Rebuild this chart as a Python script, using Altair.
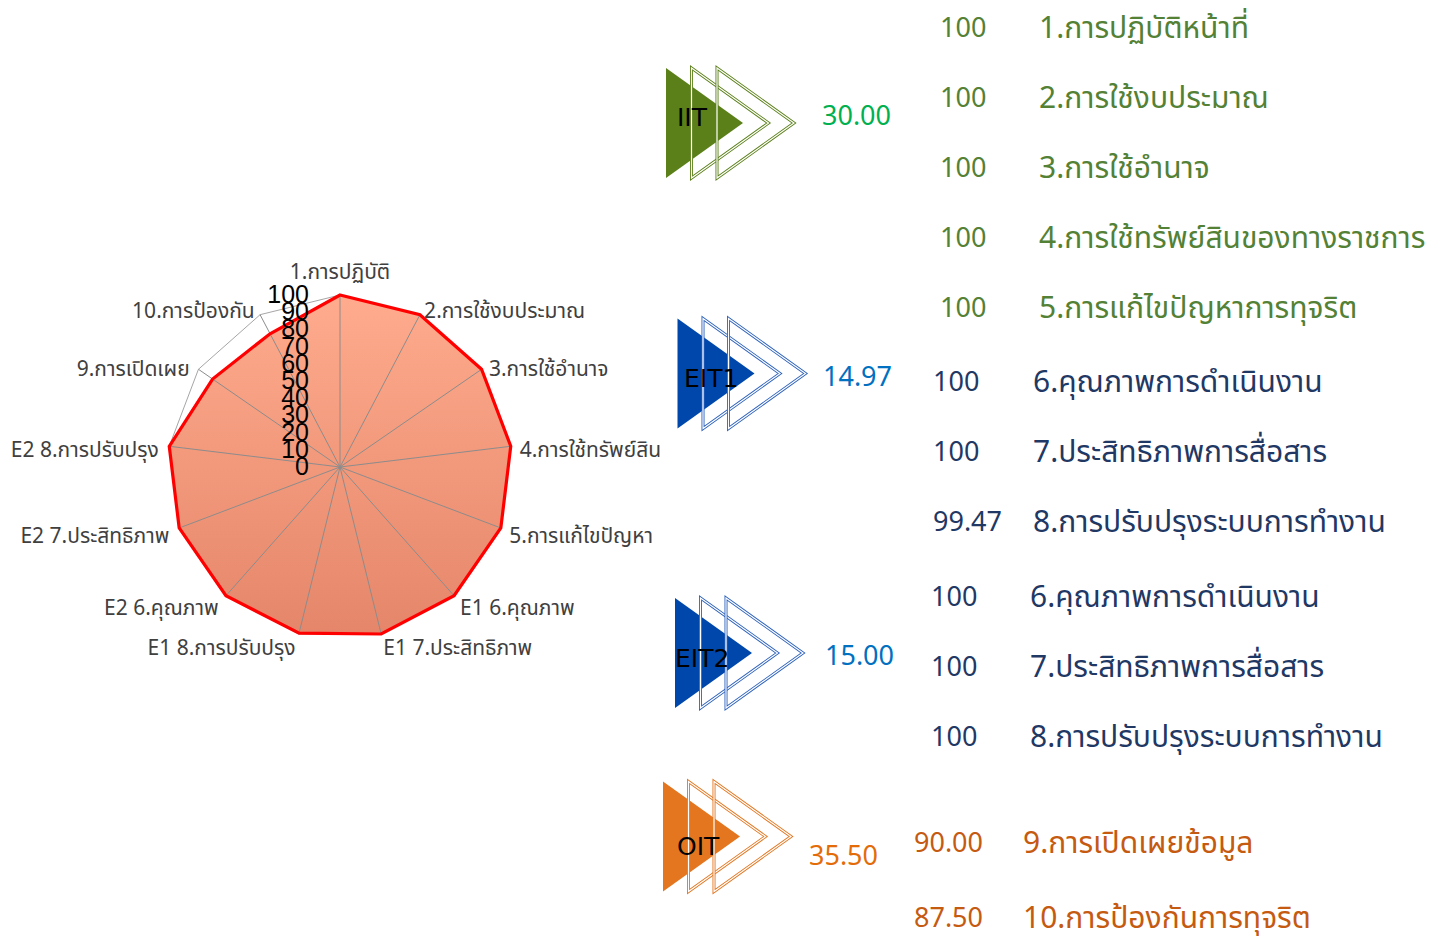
import math
import altair as alt
import pandas as pd

# ---------------- data ----------------
categories = ["1.การปฏิบัติ", "2.การใช้งบประมาณ", "3.การใช้อำนาจ", "4.การใช้ทรัพย์สิน",
              "5.การแก้ไขปัญหา", "E1 6.คุณภาพ", "E1 7.ประสิทธิภาพ", "E1 8.การปรับปรุง",
              "E2 6.คุณภาพ", "E2 7.ประสิทธิภาพ", "E2 8.การปรับปรุง", "9.การเปิดเผย", "10.การป้องกัน"]
values = [100, 100, 100, 100, 100, 100, 100, 99.47, 100, 100, 100, 90, 87.5]
radial_ticks = [0, 10, 20, 30, 40, 50, 60, 70, 80, 90, 100]

groups = ["IIT", "EIT1", "EIT2", "OIT"]
group_scores = ["30.00", "14.97", "15.00", "35.50"]

row_scores = ["100", "100", "100", "100", "100",
              "100", "100", "99.47",
              "100", "100", "100",
              "90.00", "87.50"]
row_texts = ["1.การปฏิบัติหน้าที่", "2.การใช้งบประมาณ", "3.การใช้อำนาจ",
             "4.การใช้ทรัพย์สินของทางราชการ", "5.การแก้ไขปัญหาการทุจริต",
             "6.คุณภาพการดำเนินงาน", "7.ประสิทธิภาพการสื่อสาร", "8.การปรับปรุงระบบการทำงาน",
             "6.คุณภาพการดำเนินงาน", "7.ประสิทธิภาพการสื่อสาร", "8.การปรับปรุงระบบการทำงาน",
             "9.การเปิดเผยข้อมูล", "10.การป้องกันการทุจริต"]
row_group = ["IIT"] * 5 + ["EIT1"] * 3 + ["EIT2"] * 3 + ["OIT"] * 2

# ---------------- layout / style ----------------
W, H = 1431, 929
CX, CY, R = 340, 467, 172          # radar centre and radius (page px)
THAI = "Noto Sans Thai, Tahoma, Noto Sans, sans-serif"

icon_color = {"IIT": "#5B8019", "EIT1": "#0047AB", "EIT2": "#0047AB", "OIT": "#E4761F"}
outline_color = {"IIT": "#5B8019", "EIT1": "#2E62BE", "EIT2": "#2E62BE", "OIT": "#E4761F"}
score_color = {"IIT": "#00B050", "EIT1": "#0070C0", "EIT2": "#0070C0", "OIT": "#E36C09"}
row_color = {"IIT": "#538135", "EIT1": "#1F3864", "EIT2": "#1F3864", "OIT": "#C55A11"}

icon_cx = {"IIT": 704.5, "EIT1": 716, "EIT2": 713.5, "OIT": 701.5}
icon_cy = {"IIT": 123, "EIT1": 373.5, "EIT2": 653, "OIT": 836.5}
glabel_x = {"IIT": 677, "EIT1": 684, "EIT2": 675, "OIT": 677}
glabel_y = {"IIT": 118, "EIT1": 379, "EIT2": 659, "OIT": 847}
score_x = {"IIT": 822, "EIT1": 823, "EIT2": 825, "OIT": 809}
score_y = {"IIT": 117, "EIT1": 378, "EIT2": 657, "OIT": 857}
num_x = {"IIT": 940, "EIT1": 933, "EIT2": 931, "OIT": 914}
txt_x = {"IIT": 1039, "EIT1": 1033, "EIT2": 1030, "OIT": 1023}
row_y = [29, 99, 169, 239, 309, 383, 453, 523, 598, 668, 738, 844, 919]

XS = alt.Scale(domain=[8, 8 + W], nice=False, zero=False)
YS = alt.Scale(domain=[8, 8 + H], nice=False, zero=False, reverse=True)


def X(f):
    return alt.X(f, type="quantitative", scale=XS, axis=None)


def Y(f):
    return alt.Y(f, type="quantitative", scale=YS, axis=None)


# ---------------- radar frame ----------------
n = len(categories)
rows = []
for i, (c, v) in enumerate(zip(categories, values)):
    a = 2 * math.pi * i / n
    s, co = math.sin(a), math.cos(a)
    fx, fy = CX + R * s, CY - R * co
    px, py = CX + R * v / 100 * s, CY - R * v / 100 * co
    if abs(s) < 0.05:
        align, lx, ly = "center", fx, fy - 22
    elif s > 0:
        align, lx, ly = "left", fx + 9 * s, fy + 6 - 9.5 * co
    else:
        align, lx, ly = "right", fx + 9.5 * s - 1, fy + 6 - 9.5 * co
    rows.append(dict(idx=i, cat=c, value=v, cx=CX, cy=CY, fx=fx, fy=fy,
                     px=px, py=py, lx=lx, ly=ly, align=align))
radar = pd.DataFrame(rows)

ticks = pd.DataFrame({"t": radial_ticks})
ticks["lab"] = ticks["t"].astype(str)
ticks["x"] = CX - 31
ticks["y"] = CY - R * ticks["t"] / 100

base = alt.Chart(radar)

outer = base.mark_line(interpolate="linear-closed", color="#A6A6A6", strokeWidth=1).encode(
    x=X("fx"), y=Y("fy"), order="idx:O")

fill = base.mark_line(
    interpolate="linear-closed", strokeWidth=0, strokeOpacity=0, filled=True,
    fill=alt.Gradient(gradient="linear", x1=0, x2=0, y1=0, y2=1,
                      stops=[alt.GradientStop(color="#FFAB8D", offset=0),
                             alt.GradientStop(color="#E5866A", offset=1)])
).encode(x=X("px"), y=Y("py"), order="idx:O")

spokes = base.mark_rule(color="#8C8C8C", strokeWidth=1).encode(
    x=X("cx"), y=Y("cy"), x2="fx", y2="fy")

redline = base.mark_line(interpolate="linear-closed", color="#FF0000", strokeWidth=3.2).encode(
    x=X("px"), y=Y("py"), order="idx:O")

label_layers = []
for al in ["left", "right", "center"]:
    label_layers.append(
        base.transform_filter(alt.datum.align == al).mark_text(
            align=al, baseline="middle", font=THAI, fontSize=21, color="#404040"
        ).encode(x=X("lx"), y=Y("ly"), text="cat:N"))

tick_text = alt.Chart(ticks).mark_text(
    align="right", baseline="middle", font="Liberation Sans Narrow, Liberation Sans, Arial",
    fontSize=25, color="#000000").encode(x=X("x"), y=Y("y"), text="lab:N")

# ---------------- right panel ----------------
TRI = "M-0.7,-1L0.7,0L-0.7,1Z"
icons = pd.DataFrame({
    "g": groups,
    "score": group_scores,
    "cx": [icon_cx[g] for g in groups],
    "cx1": [icon_cx[g] + 25.5 for g in groups],
    "cx2": [icon_cx[g] + 51 for g in groups],
    "cy": [icon_cy[g] for g in groups],
    "gx": [glabel_x[g] for g in groups],
    "gy": [glabel_y[g] for g in groups],
    "sx": [score_x[g] for g in groups],
    "sy": [score_y[g] for g in groups],
})
gdom = groups
ibase = alt.Chart(icons)

filled_tri = ibase.mark_point(shape=TRI, size=12100, filled=True, opacity=1, strokeWidth=0).encode(
    x=X("cx"), y=Y("cy"),
    color=alt.Color("g:N", scale=alt.Scale(domain=gdom, range=[icon_color[g] for g in gdom]), legend=None))

outline_layers = []
for col in ["cx1", "cx2"]:
    outline_layers.append(ibase.mark_point(shape=TRI, size=12100, filled=False, opacity=1, strokeWidth=3.0).encode(
        x=X(col), y=Y("cy"),
        color=alt.Color("g:N", scale=alt.Scale(domain=gdom, range=[outline_color[g] for g in gdom]), legend=None)))
    outline_layers.append(ibase.mark_point(shape=TRI, size=12100, filled=False, opacity=1, strokeWidth=1.2,
                                           color="#FFFFFF").encode(x=X(col), y=Y("cy")))

glabels = ibase.mark_text(align="left", baseline="middle", font="Tahoma, DejaVu Sans, sans-serif",
                          fontSize=25, color="#000000").encode(x=X("gx"), y=Y("gy"), text="g:N")
gscores = ibase.mark_text(align="left", baseline="middle", font=THAI, fontSize=27).encode(
    x=X("sx"), y=Y("sy"), text="score:N",
    color=alt.Color("g:N", scale=alt.Scale(domain=gdom, range=[score_color[g] for g in gdom]), legend=None))

rowdf = pd.DataFrame({
    "score": row_scores, "text": row_texts, "g": row_group,
    "nx": [num_x[g] for g in row_group], "tx": [txt_x[g] for g in row_group], "y": row_y,
})
rbase = alt.Chart(rowdf)
rcolor = alt.Color("g:N", scale=alt.Scale(domain=gdom, range=[row_color[g] for g in gdom]), legend=None)
rnums = rbase.mark_text(align="left", baseline="middle", font=THAI, fontSize=27).encode(
    x=X("nx"), y=Y("y"), text="score:N", color=rcolor)
rtexts = rbase.mark_text(align="left", baseline="middle", font=THAI, fontSize=30).encode(
    x=X("tx"), y=Y("y"), text="text:N", color=rcolor)

chart = alt.layer(
    outer, fill, spokes, redline, *label_layers, tick_text,
    filled_tri, *outline_layers, glabels, gscores, rnums, rtexts
).resolve_scale(color="independent").properties(
    width=W, height=H, padding=0, autosize="none", background="#FFFFFF"
).configure_view(stroke=None)

chart.save("out.html", embed_options={"renderer": "svg", "actions": False})
